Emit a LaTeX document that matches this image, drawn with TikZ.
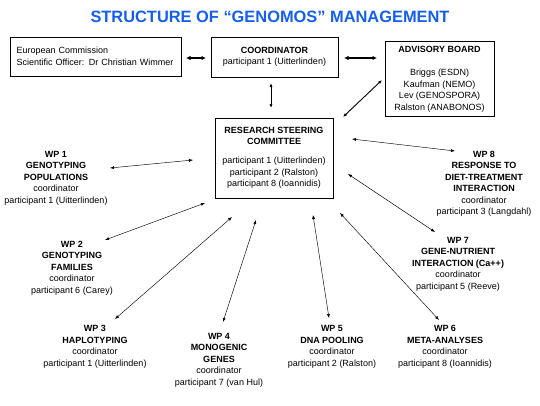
\documentclass[tikz,border=0pt]{standalone}
\usepackage{fontspec}
\setmainfont{Liberation Sans}
\usetikzlibrary{arrows.meta}
\definecolor{titleblue}{RGB}{20,95,240}
\begin{document}
\begin{tikzpicture}[x=1pt,y=-1pt,
  every node/.style={inner sep=0pt},
  box/.style={draw, line width=0.8pt, inner sep=3pt},
  txt/.style={font=\fontsize{9}{11.5}\selectfont, align=center},
  thinarrow/.style={{Latex[length=4pt,width=3pt]}-{Latex[length=4pt,width=3pt]}, line width=0.45pt},
  thickarrow/.style={{Latex[length=4.5pt,width=4.5pt]}-{Latex[length=4.5pt,width=4.5pt]}, line width=1.4pt}]
\useasboundingbox (0,0) rectangle (540,405);

% title
\node (title) [font=\fontsize{16.4}{18}\selectfont\bfseries, text=titleblue] at (270,17) {STRUCTURE OF “GENOMOS” MANAGEMENT};

% top boxes
\node (ec) [box, txt, align=left, minimum width=171pt, minimum height=39pt, text width=158pt] at (95.5,56.5)
  {European Commission\\Scientific Officer: Dr Christian Wimmer};
\node (coord) [box, txt, minimum width=127pt, minimum height=40pt] at (274.5,57)
  {\textbf{COORDINATOR}\\participant 1 (Uitterlinden)};
\node (adv) [box, txt, minimum width=109pt, minimum height=75pt] at (439.5,79)
  {\textbf{ADVISORY BOARD}\\[12pt]Briggs (ESDN)\\Kaufman (NEMO)\\Lev (GENOSPORA)\\Ralston (ANABONOS)};
\node (rsc) [box, txt, minimum width=118pt, minimum height=80pt] at (274,158)
  {\textbf{RESEARCH STEERING}\\\textbf{COMMITTEE}\\[7.5pt]participant 1 (Uitterlinden)\\participant 2 (Ralston)\\participant 8 (Ioannidis)};

% work packages
\node (wp1) [txt] at (56,178) {\textbf{WP 1}\\\textbf{GENOTYPING}\\\textbf{POPULATIONS}\\coordinator\\participant 1 (Uitterlinden)};
\node (wp2) [txt] at (72,268) {\textbf{WP 2}\\\textbf{GENOTYPING}\\\textbf{FAMILIES}\\coordinator\\participant 6 (Carey)};
\node (wp3) [txt] at (95,347) {\textbf{WP 3}\\\textbf{HAPLOTYPING}\\coordinator\\participant 1 (Uitterlinden)};
\node (wp4) [txt] at (219,360) {\textbf{WP 4}\\\textbf{MONOGENIC}\\\textbf{GENES}\\coordinator\\participant 7 (van Hul)};
\node (wp5) [txt] at (332,347) {\textbf{WP 5}\\\textbf{DNA POOLING}\\coordinator\\participant 2 (Ralston)};
\node (wp6) [txt] at (445,347) {\textbf{WP 6}\\\textbf{META-ANALYSES}\\coordinator\\participant 8 (Ioannidis)};
\node (wp7) [txt] at (458,264) {\textbf{WP 7}\\\textbf{GENE-NUTRIENT}\\\textbf{INTERACTION (Ca++)}\\coordinator\\participant 5 (Reeve)};
\node (wp8) [txt] at (484,184) {\textbf{WP 8}\\\textbf{RESPONSE TO}\\\textbf{DIET-TREATMENT}\\\textbf{INTERACTION}\\coordinator\\participant 3 (Langdahl)};

% connector end points
\coordinate (ecR) at (186,58);   \coordinate (coL) at (206,58);
\coordinate (coR) at (344,58);   \coordinate (adL) at (377,58);
\coordinate (coB) at (271,83);   \coordinate (rsT) at (271,108);
\coordinate (adB) at (382,80);   \coordinate (rsTR) at (343,117);
\coordinate (w1a) at (110,168);  \coordinate (w1b) at (193,160);
\coordinate (w2a) at (105,240);  \coordinate (w2b) at (205,203);
\coordinate (w3a) at (115,319);  \coordinate (w3b) at (232,217);
\coordinate (w4a) at (223,322);  \coordinate (w4b) at (256,220);
\coordinate (w5a) at (329,318);  \coordinate (w5b) at (313,215);
\coordinate (w6a) at (439,320);  \coordinate (w6b) at (340,213);
\coordinate (w7a) at (435,232);  \coordinate (w7b) at (348,174);
\coordinate (w8a) at (455,151);  \coordinate (w8b) at (352,139);

% connectors
\draw[thickarrow] (ecR) -- (coL);
\draw[thickarrow] (coR) -- (adL);
\draw[thinarrow, line width=0.7pt] (coB) -- (rsT);
\draw[thinarrow, line width=0.9pt] (adB) -- (rsTR);
\draw[thinarrow] (w1a) -- (w1b);
\draw[thinarrow] (w2a) -- (w2b);
\draw[thinarrow] (w3a) -- (w3b);
\draw[thinarrow] (w4a) -- (w4b);
\draw[thinarrow] (w5a) -- (w5b);
\draw[thinarrow] (w6a) -- (w6b);
\draw[thinarrow] (w7a) -- (w7b);
\draw[thinarrow] (w8a) -- (w8b);
\end{tikzpicture}
\end{document}
